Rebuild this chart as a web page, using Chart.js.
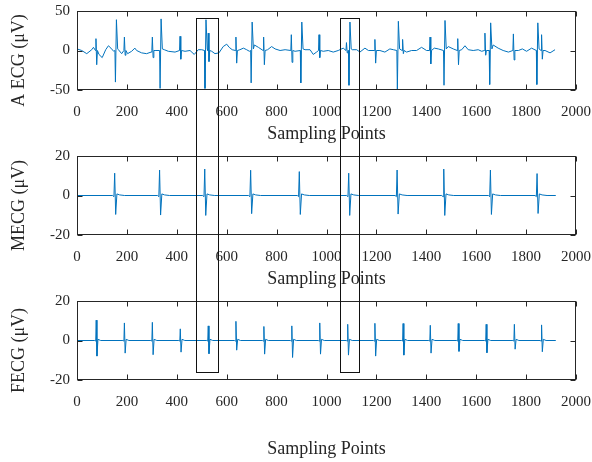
<!DOCTYPE html>
<html>
<head>
<meta charset="utf-8">
<script src="https://cdn.jsdelivr.net/npm/chart.js@4/dist/chart.umd.min.js"></script>
<style>
  html, body { margin: 0; padding: 0; background: #fff; }
  #wrap { position: relative; width: 592px; height: 462px; }
  canvas { position: absolute; left: 0; }
</style>
</head>
<body>
<div id="wrap">
  <canvas id="aecg" style="top:0px" width="592" height="145"></canvas>
  <canvas id="mecg" style="top:145px" width="592" height="145"></canvas>
  <canvas id="fecg" style="top:290px" width="592" height="172"></canvas>
  <canvas id="overlay" style="top:0px" width="592" height="462"></canvas>
</div>
<script>
// x axis (sampling points)
const xTickValues = [0, 200, 400, 600, 800, 1000, 1200, 1400, 1600, 1800, 2000];
const lastSample = 1919;

// abdominal ECG: maternal beats (trough, then peak)
const aMatPos = [154, 333, 513, 698, 897, 1090, 1284, 1471, 1654, 1843];
const aMatHi  = [39, 40, 39, 36, 36, 36, 37, 38, 35, 35];
const aMatLo  = [-40, -48, -48, -41, -41, -44, -50, -44, -43, -43];
// abdominal ECG: fetal beats
const aFetPos = [76, 190, 302, 413, 526, 637, 748, 859, 970, 1080, 1194, 1305, 1415, 1526, 1635, 1749, 1862];
const aFetHi  = [15, 17, 17, 18, 22, 17, 17, 20, 20, 10, 14, 14, 17, 15, 22, 21, 20];
const aFetLo  = [-18, -6, -9, -11, -14, -16, -18, -15, -9, -3, -16, -4, -17, -18, -6, -12, -11];
// abdominal ECG: baseline wander between beats [sample, value]
const aBaseline = [
  [0,2],[19,0],[39,-4],[59,1],[66,4],[88,-5],[101,-9],[115,1],[126,6],[136,3],[147,-1],
  [166,1],[179,-4],[203,-4],[219,-1],[232,3],[239,0],[259,-3],[279,-4],[297,-2],[313,0],
  [350,1],[366,-1],[393,-2],[433,-1],[453,0],[470,-5],[486,1],[500,1],[540,-1],[553,-4],
  [569,-3],[586,5],[600,8],[610,4],[622,1],[653,1],[667,3],[680,1],[691,-1],[711,7],[727,4],
  [764,1],[780,5],[794,2],[814,0],[834,1],[874,-1],[914,1],[934,1],[947,-5],[960,-2],
  [987,-1],[1007,0],[1027,-2],[1047,0],[1067,3],[1103,1],[1121,1],[1134,-2],[1154,3],
  [1168,0],[1214,0],[1234,-2],[1254,2],[1268,1],[1321,-2],[1341,0],[1361,0],[1381,4],
  [1401,0],[1432,3],[1448,2],[1488,5],[1508,2],[1542,1],[1555,6],[1568,1],[1588,0],
  [1608,1],[1622,-1],[1668,7],[1688,3],[1708,0],[1729,-2],[1769,0],[1785,2],[1802,-1],
  [1822,3],[1876,0],[1896,-3],[1916,1]
];

// maternal ECG
const mecgPos = [151, 331, 512, 696, 891, 1089, 1283, 1470, 1657, 1844];
const mecgHi  = [11.3, 12.9, 13.4, 12.8, 12.1, 11.3, 12.9, 13.4, 12.9, 11.1];
const mecgLo  = [-9.6, -9.9, -10.1, -9.2, -9.6, -10.1, -9.4, -10.1, -9.6, -9.1];

// fetal ECG
const fecgPos = [77, 190, 302, 414, 526, 637, 749, 861, 973, 1085, 1194, 1307, 1416, 1528, 1640, 1753, 1862];
const fecgHi  = [10.3, 8.9, 9.2, 5.9, 7.4, 9.7, 7.1, 7.4, 8.9, 8.2, 8.7, 8.6, 7.7, 8.6, 8.2, 8.2, 7.9];
const fecgLo  = [-7.9, -6.4, -7.2, -5.9, -6.7, -4.9, -6.9, -8.6, -6.9, -7.4, -7.9, -7.4, -6.4, -5.5, -6.2, -4.4, -5.7];

// highlighted windows (sampling points), top edge in A ECG units, bottom edge in FECG units
const boxWindows = [[477, 566], [1054, 1131]];
const boxTop = 41;
const boxBottom = -16;

const yTitles = ['A ECG (\u03bcV)', 'MECG (\u03bcV)', 'FECG (\u03bcV)'];

// build the traces from the read-off peaks
function bySample(a, b) { return a[0] - b[0]; }

let aPts = aBaseline.slice();
aMatPos.forEach((p, i) => {
  aPts.push([p - 2, 0], [p, aMatLo[i]], [p + 4, aMatHi[i]], [p + 9, 2]);
});
aFetPos.forEach((p, i) => {
  aPts.push([p - 2, 0], [p, aFetHi[i]], [p + 3, aFetLo[i]], [p + 6, 0]);
});
aPts.sort(bySample);

let mPts = [[0, 0]];
mecgPos.forEach((p, i) => {
  mPts.push([p - 8, 0], [p - 3, -0.6], [p, mecgHi[i]], [p + 4, mecgLo[i]], [p + 9, 0.8], [p + 20, 0.3], [p + 40, 0]);
});
mPts.push([lastSample, 0]);

let fPts = [[0, 0]];
fecgPos.forEach((p, i) => {
  fPts.push([p - 6, 0], [p - 2, -0.3], [p, fecgHi[i]], [p + 3, fecgLo[i]], [p + 7, 0.6], [p + 18, 0]);
});
fPts.push([lastSample, 0]);

Chart.defaults.font.family = "'Liberation Serif', 'Times New Roman', serif";
Chart.defaults.color = '#262626';

function noPad(s) {
  s.paddingTop = 0; s.paddingBottom = 0; s.paddingLeft = 0; s.paddingRight = 0;
}

const matlabAxes = {
  id: 'matlabAxes',
  afterDraw(chart, args, opts) {
    const { ctx, chartArea: a, scales: { x, y } } = chart;
    ctx.save();
    ctx.strokeStyle = '#262626';
    ctx.lineWidth = 1;
    const L = Math.round(a.left) + 0.5, R = Math.round(a.right) - 0.5;
    const T = Math.round(a.top) + 0.5, B = Math.round(a.bottom) - 0.5;
    ctx.strokeRect(L, T, R - L, B - T);
    ctx.beginPath();
    x.ticks.forEach(t => {
      const px = Math.round(x.getPixelForValue(t.value)) + 0.5;
      ctx.moveTo(px, B); ctx.lineTo(px, B - 5);
      ctx.moveTo(px, T); ctx.lineTo(px, T + 5);
    });
    y.ticks.forEach(t => {
      const py = Math.round(y.getPixelForValue(t.value)) + 0.5;
      ctx.moveTo(L, py); ctx.lineTo(L + 5, py);
      ctx.moveTo(R, py); ctx.lineTo(R - 5, py);
    });
    ctx.stroke();
    ctx.translate(19, (a.top + a.bottom) / 2 + 10);
    ctx.rotate(-Math.PI / 2);
    ctx.font = "18px 'Liberation Serif'";
    ctx.fillStyle = '#262626';
    ctx.textAlign = 'center';
    ctx.textBaseline = 'middle';
    ctx.fillText(opts.text, 0, 0);
    ctx.restore();
  }
};

function makeChart(id, pts, yMin, yMax, yTicks, yTitle, xAxisHeight, titlePad) {
  return new Chart(document.getElementById(id), {
    type: 'line',
    data: {
      datasets: [{
        data: pts.map(p => ({ x: p[0], y: p[1] })),
        borderColor: '#0072BD',
        borderWidth: 1,
        pointRadius: 0,
        tension: 0,
        fill: false
      }]
    },
    options: {
      responsive: false,
      animation: false,
      events: [],
      layout: { padding: { top: 11, right: 16, left: 0, bottom: 0 } },
      plugins: {
        legend: { display: false },
        tooltip: { enabled: false },
        matlabAxes: { text: yTitle }
      },
      scales: {
        x: {
          type: 'linear',
          min: 0,
          max: 2000,
          afterBuildTicks: s => { s.ticks = xTickValues.map(v => ({ value: v })); },
          afterFit: s => { s.height = xAxisHeight; noPad(s); },
          grid: { display: false, drawTicks: false },
          border: { display: false },
          ticks: { padding: 13, maxRotation: 0, autoSkip: false, font: { size: 15 }, callback: v => String(v) },
          title: { display: true, text: 'Sampling Points', font: { size: 18 }, padding: { top: 0, bottom: titlePad } }
        },
        y: {
          type: 'linear',
          min: yMin,
          max: yMax,
          afterBuildTicks: s => { s.ticks = yTicks.map(v => ({ value: v })); },
          afterFit: s => { s.width = 77; noPad(s); },
          grid: { display: false, drawTicks: false },
          border: { display: false },
          ticks: { padding: 7, font: { size: 15 }, callback: v => String(v) }
        }
      }
    },
    plugins: [matlabAxes]
  });
}

const cA = makeChart('aecg', aPts, -50, 50, [-50, 0, 50], yTitles[0], 55, 0);
const cM = makeChart('mecg', mPts, -20, 20, [-20, 0, 20], yTitles[1], 55, 0);
const cF = makeChart('fecg', fPts, -20, 20, [-20, 0, 20], yTitles[2], 82, 2);

// rectangles spanning all three panels
const ov = document.getElementById('overlay').getContext('2d');
const topPx = cA.canvas.offsetTop + cA.scales.y.getPixelForValue(boxTop);
const botPx = cF.canvas.offsetTop + cF.scales.y.getPixelForValue(boxBottom);
ov.strokeStyle = '#111';
ov.lineWidth = 1;
boxWindows.forEach(w => {
  const l = Math.round(cA.scales.x.getPixelForValue(w[0])) + 0.5;
  const r = Math.round(cA.scales.x.getPixelForValue(w[1])) + 0.5;
  const t = Math.round(topPx) + 0.5, b = Math.round(botPx) + 0.5;
  ov.strokeRect(l, t, r - l, b - t);
});
</script>
</body>
</html>
